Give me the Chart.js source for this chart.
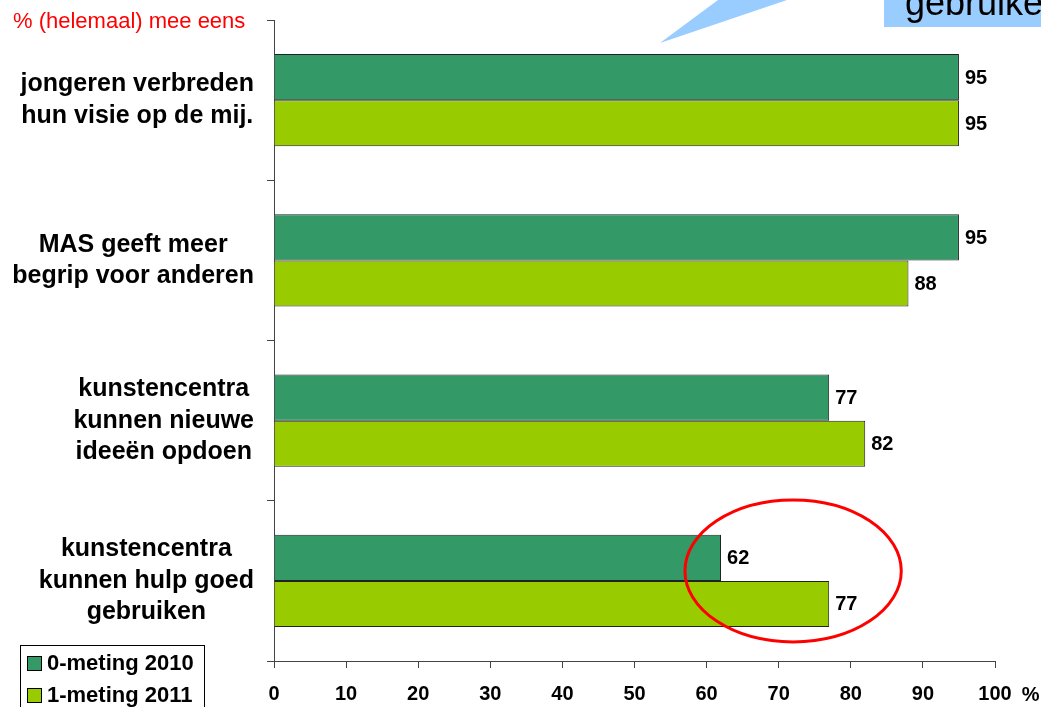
<!DOCTYPE html>
<html>
<head>
<meta charset="utf-8">
<script src="https://cdn.jsdelivr.net/npm/chart.js@4/dist/chart.umd.min.js"></script>
<style>
  html, body { margin: 0; padding: 0; background: #fff; }
  #wrap { width: 1041px; height: 707px; position: relative; }
</style>
</head>
<body>
<div id="wrap"><canvas id="myChart"></canvas></div>
<script>
// chart data
var categories = [
    ['jongeren verbreden', 'hun visie op de mij.'],
    ['MAS geeft meer', 'begrip voor anderen'],
    ['kunstencentra', 'kunnen nieuwe', 'ideeën opdoen'],
    ['kunstencentra', 'kunnen hulp goed', 'gebruiken']
];
var seriesNames = ['0-meting 2010', '1-meting 2011'];
var values2010 = [95, 95, 77, 62];
var values2011 = [95, 88, 82, 77];
var xTickLabels = ['0', '10', '20', '30', '40', '50', '60', '70', '80', '90', '100'];
var xUnit = '%';
var axisNote = '% (helemaal) mee eens';
var calloutText = 'gebruiken';

var FONT = "'Liberation Sans', Arial, sans-serif";
var AXIS_COLOR = '#444';

// category labels: right aligned block, lines centered inside it
var categoryLabels = {
    id: 'categoryLabels',
    afterDraw: function(chart) {
        var ctx = chart.ctx;
        var y = chart.scales.y;
        var right = chart.chartArea.left - 20;
        var lh = 31.5;
        ctx.save();
        ctx.font = 'bold 25px ' + FONT;
        ctx.fillStyle = '#000';
        ctx.textAlign = 'center';
        ctx.textBaseline = 'middle';
        categories.forEach(function(lines, i) {
            var w = 0;
            lines.forEach(function(l) { w = Math.max(w, ctx.measureText(l).width); });
            var cx = right - w / 2;
            var cy = y.getPixelForValue(i);
            var top = cy - (lines.length - 1) * lh / 2;
            lines.forEach(function(l, k) { ctx.fillText(l, cx, top + k * lh); });
        });
        ctx.restore();
    }
};

// numbers next to the bars
var valueLabels = {
    id: 'valueLabels',
    afterDatasetsDraw: function(chart) {
        var ctx = chart.ctx;
        ctx.save();
        ctx.font = 'bold 20px ' + FONT;
        ctx.fillStyle = '#000';
        ctx.textAlign = 'left';
        ctx.textBaseline = 'middle';
        chart.data.datasets.forEach(function(ds, d) {
            chart.getDatasetMeta(d).data.forEach(function(bar, i) {
                ctx.fillText(ds.data[i], bar.x + 6, bar.y + 1);
            });
        });
        ctx.restore();
    }
};

// legend box, note text, unit, ellipse and callout
var extras = {
    id: 'extras',
    afterDraw: function(chart) {
        var ctx = chart.ctx;
        var xs = chart.scales.x, ys = chart.scales.y;
        ctx.save();

        // callout shape in the corner
        ctx.fillStyle = '#99CCFF';
        ctx.beginPath();
        ctx.moveTo(660, 43);
        ctx.lineTo(718, 0);
        ctx.lineTo(787, 0);
        ctx.closePath();
        ctx.fill();
        ctx.fillRect(884, 0, 157, 27);
        ctx.fillStyle = '#000';
        ctx.font = '36px ' + FONT;
        ctx.textAlign = 'left';
        ctx.textBaseline = 'alphabetic';
        ctx.fillText(calloutText, 905, 15);

        // red note
        ctx.fillStyle = '#FF0000';
        ctx.font = '22px ' + FONT;
        ctx.textBaseline = 'middle';
        ctx.fillText(axisNote, 13, 22);

        // unit after last tick
        ctx.fillStyle = '#000';
        ctx.font = 'bold 20px ' + FONT;
        var lastX = xs.getPixelForValue(100);
        var w100 = ctx.measureText(xTickLabels[xTickLabels.length - 1]).width;
        ctx.fillText(xUnit, lastX + w100 / 2 + 10, 695);

        // legend
        ctx.strokeStyle = '#000';
        ctx.lineWidth = 1;
        ctx.strokeRect(20.5, 645.5, 184, 90);
        ctx.font = 'bold 22px ' + FONT;
        chart.data.datasets.forEach(function(ds, d) {
            var cy = 663 + d * 32;
            ctx.fillStyle = ds.backgroundColor;
            ctx.fillRect(27, cy - 7, 15, 15);
            ctx.strokeRect(27.5, cy - 6.5, 14, 14);
            ctx.fillStyle = '#000';
            ctx.fillText(ds.label, 47, cy + 1);
        });

        // red ellipse around last group
        var cx = xs.getPixelForValue(72);
        var rx = xs.getPixelForValue(87) - cx;
        var cy2 = ys.getPixelForValue(3) - 10;
        ctx.strokeStyle = '#FF0000';
        ctx.lineWidth = 3;
        ctx.beginPath();
        ctx.ellipse(cx, cy2, rx, 71, 0, 0, Math.PI * 2);
        ctx.stroke();

        ctx.restore();
    }
};

var ctx = document.getElementById('myChart');
var myBarChart = new Chart(ctx, {
    type: 'bar',
    data: {
        labels: categories,
        datasets: [{
            label: seriesNames[0],
            data: values2010,
            backgroundColor: '#339966',
            borderColor: '#222',
            borderWidth: 1,
            categoryPercentage: 0.575,
            barPercentage: 1.0
        }, {
            label: seriesNames[1],
            data: values2011,
            backgroundColor: '#99CC00',
            borderColor: '#222',
            borderWidth: 1,
            categoryPercentage: 0.575,
            barPercentage: 1.0
        }]
    },
    options: {
        indexAxis: 'y',
        responsive: true,
        maintainAspectRatio: false,
        animation: false,
        devicePixelRatio: 1,
        layout: { padding: { top: 20, right: 46, left: 0, bottom: 0 } },
        plugins: {
            legend: { display: false },
            tooltip: { enabled: false },
            title: { display: false }
        },
        scales: {
            x: {
                type: 'linear',
                min: 0,
                max: 100,
                ticks: {
                    stepSize: 10,
                    padding: 14,
                    color: '#000',
                    font: { family: FONT, size: 20, weight: 'bold' },
                    callback: function(v, i) { return xTickLabels[i]; }
                },
                grid: { drawOnChartArea: false, tickLength: 7, color: AXIS_COLOR },
                border: { display: true, color: AXIS_COLOR },
                afterFit: function(s) { s.height = 46; }
            },
            y: {
                ticks: { display: false },
                grid: { drawOnChartArea: false, offset: true, tickLength: 7, color: AXIS_COLOR },
                border: { display: true, color: AXIS_COLOR },
                afterFit: function(s) { s.width = 274; }
            }
        }
    },
    plugins: [categoryLabels, valueLabels, extras]
});
</script>
</body>
</html>
